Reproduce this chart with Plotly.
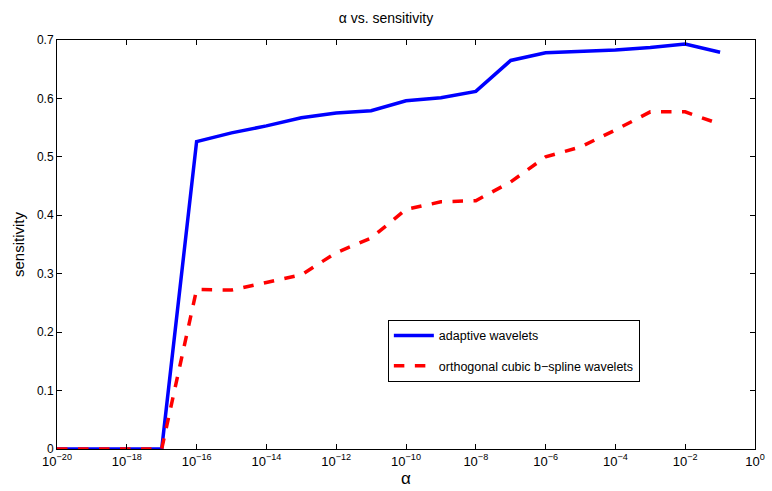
import plotly.graph_objects as go

alpha = [1e-20, 1e-19, 1e-18, 1e-17, 1e-16, 1e-15, 1e-14, 1e-13, 1e-12, 1e-11,
         1e-10, 1e-9, 1e-8, 1e-7, 1e-6, 1e-5, 1e-4, 1e-3, 1e-2, 1e-1]
adaptive = [0, 0, 0, 0, 0.526, 0.541, 0.553, 0.567, 0.575, 0.579,
            0.596, 0.601, 0.612, 0.665, 0.678, 0.680, 0.683, 0.687, 0.693, 0.679]
bspline = [0, 0, 0, 0, 0.273, 0.272, 0.285, 0.298, 0.336, 0.361,
           0.410, 0.423, 0.425, 0.457, 0.500, 0.517, 0.546, 0.577, 0.577, 0.556]

xtick_vals = [1e-20, 1e-18, 1e-16, 1e-14, 1e-12, 1e-10, 1e-8, 1e-6, 1e-4, 1e-2, 1e0]
xtick_text = ["10<sup>\u221220</sup>", "10<sup>\u221218</sup>", "10<sup>\u221216</sup>",
              "10<sup>\u221214</sup>", "10<sup>\u221212</sup>", "10<sup>\u221210</sup>",
              "10<sup>\u22128</sup>", "10<sup>\u22126</sup>", "10<sup>\u22124</sup>",
              "10<sup>\u22122</sup>", "10<sup>0</sup>"]
ytick_vals = [0, 0.1, 0.2, 0.3, 0.4, 0.5, 0.6, 0.7]
ytick_text = ["0", "0.1", "0.2", "0.3", "0.4", "0.5", "0.6", "0.7"]

fig = go.Figure()
fig.add_trace(go.Scatter(x=alpha, y=adaptive, mode="lines", name="adaptive wavelets",
                         legendgroup="a",
                         line=dict(color="#0000ff", width=3.5)))
fig.add_trace(go.Scatter(x=alpha, y=bspline, mode="lines",
                         name="orthogonal cubic b\u2212spline wavelets",
                         legendgroup="b",
                         line=dict(color="#ff0000", width=3.5, dash="dash")))

font = "Liberation Sans, Arial, Helvetica, sans-serif"
fig.update_layout(
    width=772, height=491,
    margin=dict(l=57, r=17, t=40, b=42),
    paper_bgcolor="white", plot_bgcolor="white",
    font=dict(family=font, size=12, color="black"),
    title=dict(text="\u03b1 vs. sensitivity", x=0.5, xanchor="center", y=0.963, yanchor="middle",
               font=dict(size=14, family=font)),
    showlegend=True,
    legend=dict(x=0.474, y=0.316, xanchor="left", yanchor="top",
                bordercolor="black", borderwidth=1, bgcolor="white",
                font=dict(size=12.5, family=font), tracegroupgap=11, itemwidth=40),
)
fig.update_xaxes(type="log", range=[-20, 0], tickvals=xtick_vals, ticktext=xtick_text,
                 ticks="inside", ticklen=5, tickcolor="black", showline=True, linecolor="black",
                 linewidth=1, mirror="ticks", showgrid=False, zeroline=False,
                 tickfont=dict(size=13), automargin=False,
                 title=dict(text="\u03b1", font=dict(size=17, family=font), standoff=4))
fig.update_yaxes(range=[0, 0.7], tickvals=ytick_vals, ticktext=ytick_text,
                 ticks="inside", ticklen=5, tickcolor="black", showline=True, linecolor="black",
                 linewidth=1, mirror="ticks", showgrid=False, zeroline=False,
                 tickfont=dict(size=12), automargin=False,
                 title=dict(text="sensitivity", font=dict(size=15, family=font), standoff=8))

fig.write_html("out.html")
